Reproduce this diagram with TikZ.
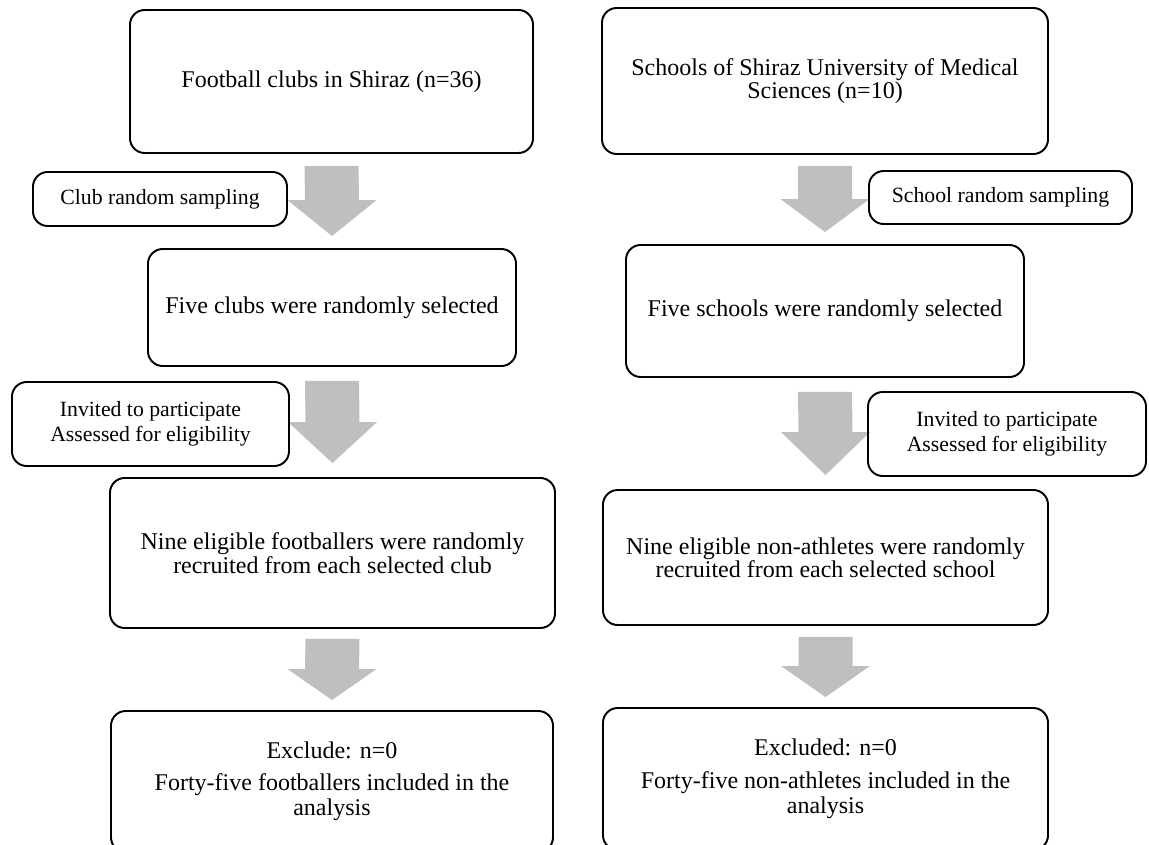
\documentclass[tikz,border=0pt]{standalone}
\usepackage{fontspec}
\setmainfont{Liberation Serif}
\usetikzlibrary{calc,backgrounds}
\definecolor{arrowgray}{HTML}{BFBFBF}
\tikzset{
  boxline/.style={draw=black, line width=1.45pt, rounded corners=11pt, inner sep=0pt, align=center},
  bigbox/.style={boxline, font=\fontsize{18}{17.5}\selectfont},
  smallbox/.style={boxline, font=\fontsize{16.3}{18.5}\selectfont},
  endbox/.style={boxline, font=\fontsize{18}{18.75}\selectfont},
  arrowfill/.style={fill=arrowgray}
}
% #1 from node, #2 to node, #3 gap below #1, #4 gap above #2, #5 head length
\newcommand{\grayarrow}[5]{%
  \fill[arrowfill] ($(#1.south)+(-27,#3)$) -- ($(#1.south)+(27,#3)$)
    -- ($(#2.north)+(27,-#4-#5)$) -- ($(#2.north)+(44.5,-#4-#5)$)
    -- ($(#2.north)+(0,-#4)$) -- ($(#2.north)+(-44.5,-#4-#5)$)
    -- ($(#2.north)+(-27,-#4-#5)$) -- cycle;}
\begin{document}
\begin{tikzpicture}[x=0.75pt,y=-0.75pt]
\useasboundingbox (0,0) rectangle (1149,845);
\clip (0,0) rectangle (1149,845);
% left column
\node[bigbox, minimum width=302.25pt, minimum height=107.25pt] (L1) at (331.5,81.5) {Football clubs in Shiraz (n=36)};
\node[bigbox, minimum width=276pt, minimum height=87.75pt] (L2) at (332,307.5) {Five clubs were randomly selected};
\node[bigbox, minimum width=333.75pt, minimum height=112.5pt] (L3) at (332.5,553) {Nine eligible footballers were randomly\\recruited from each selected club};
\node[endbox, minimum width=331.5pt, minimum height=105.75pt] (L4) at (332,781.5) {Exclude: n=0\\[5pt]Forty-five footballers included in the\\analysis};
\node[smallbox, minimum width=190.5pt, minimum height=40.5pt] (CL) at (160,199) {Club random sampling};
\node[smallbox, minimum width=207.75pt, minimum height=63pt] (IL) at (150.5,424) {Invited to participate\\Assessed for eligibility};
% right column
\node[bigbox, minimum width=334.5pt, minimum height=109.5pt] (R1) at (825,81) {Schools of Shiraz University of Medical\\Sciences (n=10)};
\node[bigbox, minimum width=298.5pt, minimum height=99pt] (R2) at (825,311) {Five schools were randomly selected};
\node[bigbox, minimum width=333.75pt, minimum height=101.25pt] (R3) at (825.5,557.5) {Nine eligible non-athletes were randomly\\recruited from each selected school};
\node[endbox, minimum width=333.75pt, minimum height=106.5pt] (R4) at (825.5,779) {Excluded: n=0\\[6pt]Forty-five non-athletes included in the\\analysis};
\node[smallbox, minimum width=197.25pt, minimum height=39.75pt] (SR) at (1000.5,197.5) {School random sampling};
\node[smallbox, minimum width=208.5pt, minimum height=63pt] (IR) at (1007,434) {Invited to participate\\Assessed for eligibility};
% block arrows
\begin{scope}[on background layer]
\grayarrow{L1}{L2}{12}{12}{36}
\grayarrow{L2}{L3}{14}{14}{41}
\grayarrow{L3}{L4}{10}{10}{31}
\grayarrow{R1}{R2}{11}{12}{33}
\grayarrow{R2}{R3}{14}{14}{43}
\grayarrow{R3}{R4}{11}{10}{31}
\end{scope}
\end{tikzpicture}
\end{document}
